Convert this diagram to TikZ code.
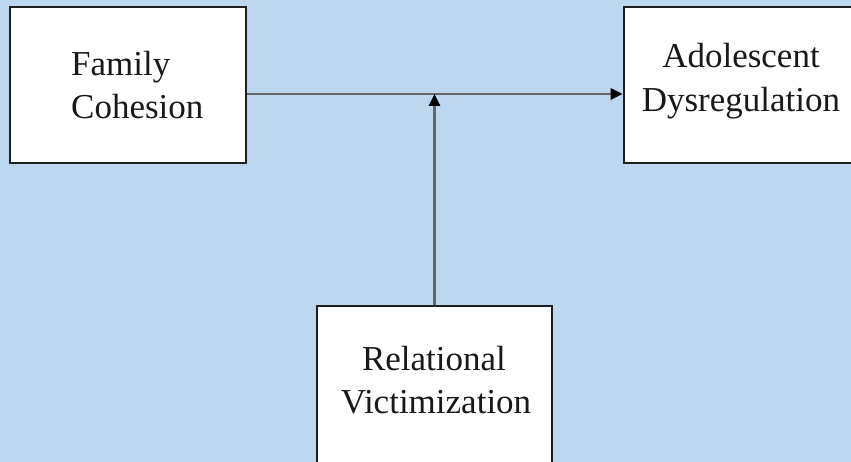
\documentclass[tikz,border=0pt]{standalone}
\usepackage{fontspec}
\setmainfont{Liberation Serif}
\usetikzlibrary{arrows.meta}
\definecolor{bgblue}{HTML}{BDD7EE}
\definecolor{linegrey}{HTML}{666666}
\begin{document}
\begin{tikzpicture}[x=1pt,y=-1pt,
  box/.style={draw=black!88,line width=2.6pt,fill=white,rectangle,inner sep=0pt},
  lbl/.style={inner sep=0pt,font=\fontsize{35}{43}\selectfont,text=black!90},
  conn/.style={draw=linegrey,line width=2.6pt,arrows={-{Triangle[length=12pt,width=11pt,color=black]}}}]
\useasboundingbox (0,0) rectangle (851,462);
\fill[bgblue] (0,0) rectangle (851,462);
\clip (0,0) rectangle (851,462);
% boxes
\node[box,minimum width=236pt,minimum height=156pt] (fc) at (128,85) {};
\node[box,minimum width=236pt,minimum height=156pt] (ad) at (742,85) {};
\node[box,minimum width=235pt,minimum height=180pt] (rv) at (434.5,396) {};
% labels
\node[lbl,anchor=base west] (fc1) at (71,76) {Family};
\node[lbl,anchor=base west] (fc2) at (71,119) {Cohesion};
\node[lbl,anchor=base] (ad1) at (741,68) {Adolescent};
\node[lbl,anchor=base] (ad2) at (741,112) {Dysregulation};
\node[lbl,anchor=base] (rv1) at (434,370) {Relational};
\node[lbl,anchor=base] (rv2) at (436,413) {Victimization};
% connectors
\coordinate (j) at (434.5,94);
\draw[conn] (fc.east |- j) -- (ad.west |- j);
\draw[conn] (rv.north) -- (j);
\end{tikzpicture}
\end{document}
